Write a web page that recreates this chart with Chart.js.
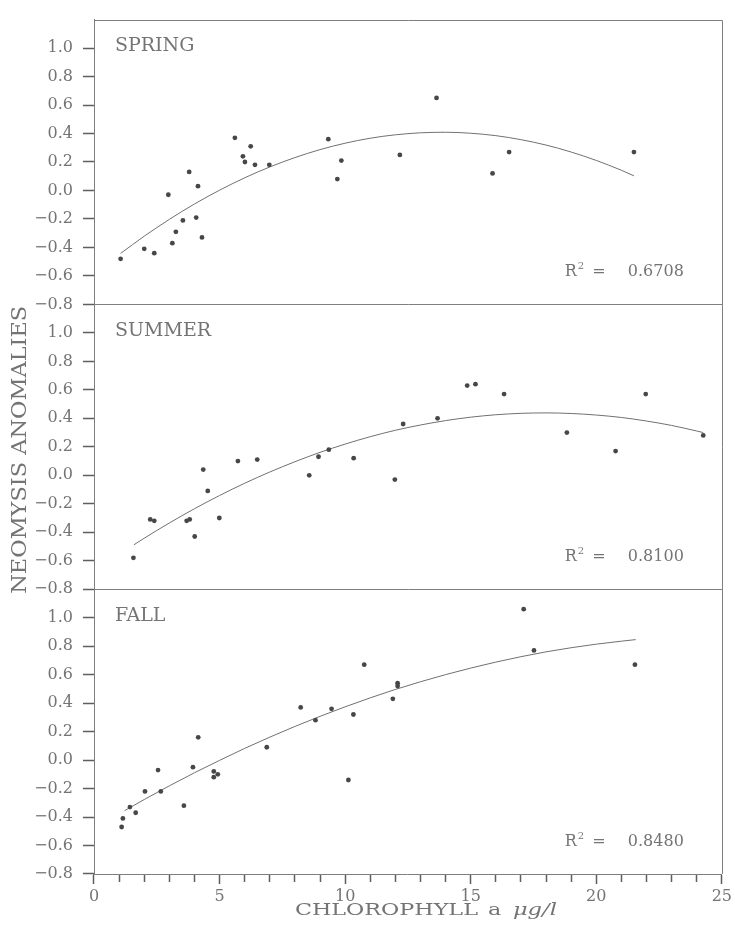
<!DOCTYPE html>
<html>
<head>
<meta charset="utf-8">
<script src="https://cdn.jsdelivr.net/npm/chart.js@4/dist/chart.umd.min.js"></script>
<style>
html,body{margin:0;padding:0;background:#fff;}
#wrap{position:relative;width:735px;height:926px;}
</style>
</head>
<body>
<div id="wrap"><canvas id="c" width="735" height="926"></canvas></div>
<script>
// ---------- data ----------
const seasons = ['SPRING', 'SUMMER', 'FALL'];
const rSquared = ['0.6708', '0.8100', '0.8480'];
const xTitleWord = 'CHLOROPHYLL';
const xTitleA = 'a';
const xTitleUnit = 'μg/l';
const yTitle = 'NEOMYSIS ANOMALIES';

const springX = [1.06, 2.0, 2.4, 2.96, 3.12, 3.26, 3.54, 3.79, 4.07, 4.14, 4.30, 5.61, 5.93, 6.01, 6.24, 6.41, 6.98, 9.33, 9.69, 9.85, 12.18, 13.64, 15.87, 16.53, 21.5];
const springY = [-0.48, -0.41, -0.44, -0.03, -0.37, -0.29, -0.21, 0.13, -0.19, 0.03, -0.33, 0.37, 0.24, 0.20, 0.31, 0.18, 0.18, 0.36, 0.08, 0.21, 0.25, 0.65, 0.12, 0.27, 0.27];
const springFitX = [1.06, 2, 3, 4, 5, 6, 7, 8, 9, 10, 11, 12, 13, 14, 15, 16, 17, 18, 19, 20, 21, 21.5];
const springFitY = [-0.442, -0.321, -0.203, -0.095, 0.002, 0.089, 0.165, 0.231, 0.287, 0.332, 0.367, 0.391, 0.405, 0.409, 0.402, 0.385, 0.357, 0.319, 0.270, 0.211, 0.142, 0.103];

const summerX = [1.57, 2.24, 2.40, 3.69, 3.81, 4.01, 4.35, 4.53, 4.99, 5.73, 6.50, 8.57, 8.94, 9.35, 10.34, 11.98, 12.31, 13.68, 14.86, 15.19, 16.33, 18.83, 20.77, 21.97, 24.26];
const summerY = [-0.58, -0.31, -0.32, -0.32, -0.31, -0.43, 0.04, -0.11, -0.30, 0.10, 0.11, 0.00, 0.13, 0.18, 0.12, -0.03, 0.36, 0.40, 0.63, 0.64, 0.57, 0.30, 0.17, 0.57, 0.28];
const summerFitX = [1.59, 2, 3, 4, 5, 6, 7, 8, 9, 10, 11, 12, 13, 14, 15, 16, 17, 18, 19, 20, 21, 22, 23, 24, 24.26];
const summerFitY = [-0.488, -0.442, -0.335, -0.235, -0.142, -0.056, 0.023, 0.095, 0.161, 0.219, 0.271, 0.316, 0.353, 0.384, 0.408, 0.425, 0.435, 0.438, 0.434, 0.423, 0.406, 0.381, 0.350, 0.311, 0.300];

const fallX = [1.10, 1.15, 1.43, 1.66, 2.03, 2.55, 2.66, 3.58, 3.94, 4.15, 4.77, 4.77, 4.93, 6.88, 8.23, 8.82, 9.46, 10.13, 10.33, 10.76, 11.90, 12.09, 12.09, 17.11, 17.52, 21.54];
const fallY = [-0.47, -0.41, -0.33, -0.37, -0.22, -0.07, -0.22, -0.32, -0.05, 0.16, -0.08, -0.12, -0.10, 0.09, 0.37, 0.28, 0.36, -0.14, 0.32, 0.67, 0.43, 0.54, 0.52, 1.06, 0.77, 0.67];
const fallFitX = [1.22, 2, 3, 4, 5, 6, 7, 8, 9, 10, 11, 12, 13, 14, 15, 16, 17, 18, 19, 20, 21, 21.57];
const fallFitY = [-0.355, -0.277, -0.181, -0.089, -0.002, 0.082, 0.161, 0.236, 0.307, 0.374, 0.437, 0.496, 0.550, 0.600, 0.646, 0.688, 0.726, 0.760, 0.789, 0.814, 0.835, 0.846];

// ---------- styling ----------
const TEXT = '#747474';
const LINE = '#7f7f7f';
const TICK = '#5e5e5e';
const POINT = '#474747';
const FIT = '#707070';
const FONT = "'DejaVu Serif', serif";

const zip = (xs, ys) => xs.map((x, i) => ({x, y: ys[i]}));
const fmt = v => {
  if (Math.abs(v) < 1e-9) return '0.0';
  return (v < 0 ? '\u2212' : '') + Math.abs(v).toFixed(1);
};

const axisIds = ['ySpring', 'ySummer', 'yFall'];

function pointSet(xs, ys, axis) {
  return {type: 'scatter', data: zip(xs, ys), yAxisID: axis, xAxisID: 'x',
    pointRadius: 2.4, pointBackgroundColor: POINT, pointBorderWidth: 0, showLine: false};
}
function fitSet(xs, ys, axis) {
  return {type: 'scatter', data: zip(xs, ys), yAxisID: axis, xAxisID: 'x',
    showLine: true, pointRadius: 0, borderColor: FIT, borderWidth: 1,
    cubicInterpolationMode: 'monotone', fill: false};
}

function yScale(weight) {
  return {
    type: 'linear', position: 'left', stack: 'panels', stackWeight: 1, weight: weight,
    min: -0.8, max: 1.2,
    border: {color: LINE, width: 1},
    grid: {
      display: true, drawOnChartArea: false, drawTicks: true, tickLength: 11, tickWidth: 1.5, lineWidth: 1,
      color: LINE,
      tickColor: ctx => (ctx.tick && ctx.tick.value > 1.1) ? 'rgba(0,0,0,0)' : TICK
    },
    ticks: {
      stepSize: 0.2, autoSkip: false, padding: 10, color: TEXT,
      font: {family: FONT, size: 16},
      callback: v => v > 1.1 ? '' : fmt(v)
    },
    afterFit: s => { s.width = 64; }
  };
}

const framePlugin = {
  id: 'framePlugin',
  afterDraw(chart) {
    const {ctx, chartArea: a, scales} = chart;
    ctx.save();
    ctx.strokeStyle = LINE;
    ctx.lineWidth = 1;
    const L = Math.round(a.left), R = Math.round(a.right) + 0.5, T = Math.round(a.top) + 0.5;
    ctx.beginPath();
    ctx.moveTo(L, T); ctx.lineTo(R, T); ctx.lineTo(R, Math.round(a.bottom));
    ['ySummer', 'yFall'].forEach(id => {
      const y = Math.round(scales[id].top) + 0.5;
      ctx.moveTo(L, y); ctx.lineTo(R, y);
    });
    ctx.stroke();

    ctx.fillStyle = TEXT;
    ctx.textBaseline = 'alphabetic';
    axisIds.forEach((id, i) => {
      const s = scales[id];
      ctx.font = '19px ' + FONT;
      ctx.textAlign = 'left';
      ctx.fillText(seasons[i], a.left + 21, s.getPixelForValue(0.98));
      const base = s.getPixelForValue(-0.6);
      ctx.font = '16px ' + FONT;
      ctx.textAlign = 'right';
      const numRight = a.right - 38;
      ctx.fillText(rSquared[i], numRight, base);
      const numLeft = numRight - ctx.measureText(rSquared[i]).width;
      const eqC = numLeft - 29;
      ctx.textAlign = 'center';
      ctx.fillText('=', eqC, base);
      ctx.textAlign = 'right';
      const rRight = eqC - 22;
      ctx.fillText('R', rRight, base);
      ctx.font = '10px ' + FONT;
      ctx.textAlign = 'left';
      ctx.fillText('2', rRight + 1, base - 7);
    });

    ctx.save();
    ctx.font = '20px ' + FONT;
    const yw = ctx.measureText(yTitle).width;
    ctx.translate(26, (a.top + a.bottom) / 2 + 3);
    ctx.rotate(-Math.PI / 2);
    ctx.scale(288 / yw, 1);
    ctx.textAlign = 'center';
    ctx.fillText(yTitle, 0, 0);
    ctx.restore();

    ctx.save();
    ctx.font = '16px ' + FONT;
    const ww = ctx.measureText(xTitleWord).width;
    const sx = 183 / ww;
    const start = (a.left + a.right) / 2 - 113;
    const base = 915;
    ctx.textAlign = 'left';
    ctx.save(); ctx.translate(start, base); ctx.scale(sx, 1); ctx.fillText(xTitleWord, 0, 0); ctx.restore();
    ctx.save(); ctx.translate(start + 193, base); ctx.scale(sx, 1); ctx.fillText(xTitleA, 0, 0); ctx.restore();
    ctx.font = 'italic 16px ' + FONT;
    const uw = ctx.measureText(xTitleUnit).width;
    ctx.save(); ctx.translate(start + 218, base); ctx.scale(44 / uw, 1); ctx.fillText(xTitleUnit, 0, 0); ctx.restore();
    ctx.restore();

    ctx.restore();
  }
};

new Chart(document.getElementById('c'), {
  type: 'scatter',
  data: {
    datasets: [
      pointSet(springX, springY, 'ySpring'),
      fitSet(springFitX, springFitY, 'ySpring'),
      pointSet(summerX, summerY, 'ySummer'),
      fitSet(summerFitX, summerFitY, 'ySummer'),
      pointSet(fallX, fallY, 'yFall'),
      fitSet(fallFitX, fallFitY, 'yFall')
    ]
  },
  options: {
    responsive: false,
    animation: false,
    devicePixelRatio: 1,
    layout: {padding: {left: 30, right: 13, top: 8, bottom: 22}},
    plugins: {legend: {display: false}, tooltip: {enabled: false}},
    scales: {
      x: {
        type: 'linear', position: 'bottom', min: 0, max: 25,
        border: {color: LINE, width: 1},
        grid: {
          display: true, drawOnChartArea: false, drawTicks: true, tickLength: 10, tickWidth: 1.5, lineWidth: 1,
          color: LINE, tickColor: TICK,
          tickBorderDash: ctx => (ctx.tick && Math.round(ctx.tick.value) % 5 === 0) ? [] : [7, 40]
        },
        ticks: {
          stepSize: 1, autoSkip: false, maxRotation: 0, padding: 3, color: TEXT,
          font: {family: FONT, size: 16},
          callback: v => (Math.round(v) % 5 === 0) ? String(Math.round(v)) : ''
        },
        afterFit: s => { s.height = 30; }
      },
      ySpring: yScale(3),
      ySummer: yScale(2),
      yFall: yScale(1)
    }
  },
  plugins: [framePlugin]
});
</script>
</body>
</html>
